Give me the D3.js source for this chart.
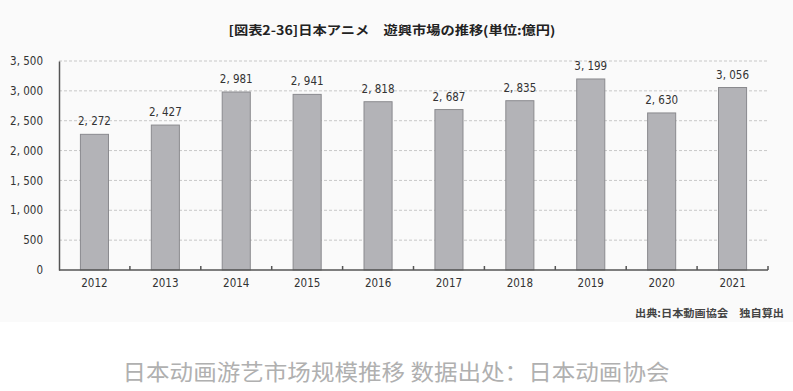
<!DOCTYPE html>
<html><head><meta charset="utf-8">
<script src="https://cdn.jsdelivr.net/npm/d3@7"></script>
<style>body{margin:0;background:#fff;}svg{display:block;}</style>
</head><body>
<svg id="c" width="793" height="391"></svg>
<script>
const years = ["2012","2013","2014","2015","2016","2017","2018","2019","2020","2021"];
const values = [2272, 2427, 2981, 2941, 2818, 2687, 2835, 3199, 2630, 3056];
const yTicks = [0, 500, 1000, 1500, 2000, 2500, 3000, 3500];
const titleText = "[図表2-36]日本アニメ　遊興市場の推移(単位:億円)";
const sourceText = "出典:日本動画協会　独自算出";
const captionText = "日本动画游艺市场规模推移 数据出处：日本动画协会";

const svg = d3.select("#c");
const numFont = "'DejaVu Sans Condensed', 'Liberation Sans Narrow', sans-serif";
const cjkFont = "'Noto Sans CJK JP', sans-serif";

svg.append("rect").attr("x",0).attr("y",0).attr("width",793).attr("height",322).attr("fill","#fafafa");

const m = {left:59, right:768, top:61, bottom:270};
const x = d3.scaleBand().domain(years).range([m.left, m.right]).paddingInner(0.59).paddingOuter(0.295);
const y = d3.scaleLinear().domain([0,3500]).range([m.bottom, m.top]);
const band = d3.scaleBand().domain(years).range([m.left, m.right]);

// gridlines
svg.append("g").selectAll("line").data(yTicks.filter(d=>d>0)).join("line")
  .attr("x1", m.left).attr("x2", m.right)
  .attr("y1", d=>y(d)).attr("y2", d=>y(d))
  .attr("stroke","#c8c8c8").attr("stroke-width",1).attr("stroke-dasharray","3,2");

// bars
svg.append("g").selectAll("rect").data(values).join("rect")
  .attr("x",(d,i)=>x(years[i])+0.5).attr("width",x.bandwidth()-1)
  .attr("y",d=>y(d)).attr("height",d=>y(0)-y(d))
  .attr("fill","#b3b3b7").attr("stroke","#8a8a8e").attr("stroke-width",1);

// value labels
svg.append("g").selectAll("text").data(values).join("text")
  .attr("x",(d,i)=>x(years[i])+x.bandwidth()/2).attr("y",d=>y(d)-9)
  .attr("text-anchor","middle").attr("font-family",numFont).attr("font-size",11.5)
  .attr("fill","#333").text(d=>d3.format(",")(d).replace(",", ", "));

// y axis
const yAxis = d3.axisLeft(y).tickValues(yTicks).tickSize(0).tickPadding(16)
  .tickFormat(d=>d3.format(",")(d).replace(",", ", "));
const gy = svg.append("g").attr("transform",`translate(${m.left},0)`).call(yAxis);
gy.select(".domain").attr("stroke","#555").attr("stroke-width",1.5);
gy.selectAll("text").attr("font-family",numFont).attr("font-size",11.5).attr("fill","#333");

// x axis
const xAxis = d3.axisBottom(x).tickSize(0).tickPadding(9);
const gx = svg.append("g").attr("transform",`translate(0,${m.bottom})`).call(xAxis);
gx.select(".domain").attr("stroke","#555").attr("stroke-width",1.5).attr("d",`M${m.left},0H${m.right}`);
gx.selectAll("text").attr("font-family",numFont).attr("font-size",11.5).attr("fill","#333");
// small boundary ticks
svg.append("g").selectAll("line").data(years.slice(1).concat(["end"])).join("line")
  .attr("x1",(d,i)=> i<years.length-1 ? band(d) : m.right)
  .attr("x2",(d,i)=> i<years.length-1 ? band(d) : m.right)
  .attr("y1",m.bottom-4).attr("y2",m.bottom)
  .attr("stroke","#555").attr("stroke-width",1.5);

// title
svg.append("text").attr("x",392).attr("y",35).attr("text-anchor","middle")
  .attr("font-family",cjkFont).attr("font-weight","bold").attr("font-size",12.5)
  .attr("fill","#222").attr("textLength",327).attr("lengthAdjust","spacingAndGlyphs").text(titleText);

// source
svg.append("text").attr("x",784).attr("y",317).attr("text-anchor","end")
  .attr("font-family",cjkFont).attr("font-weight","bold").attr("font-size",10)
  .attr("fill","#444").attr("textLength",149).attr("lengthAdjust","spacingAndGlyphs").text(sourceText);

// caption
svg.append("text").attr("x",396).attr("y",380).attr("text-anchor","middle")
  .attr("font-family","'Noto Sans CJK SC', sans-serif").attr("font-size",22)
  .attr("fill","#b0b0b0").attr("textLength",547).attr("lengthAdjust","spacingAndGlyphs").text(captionText);
</script>
</body></html>
